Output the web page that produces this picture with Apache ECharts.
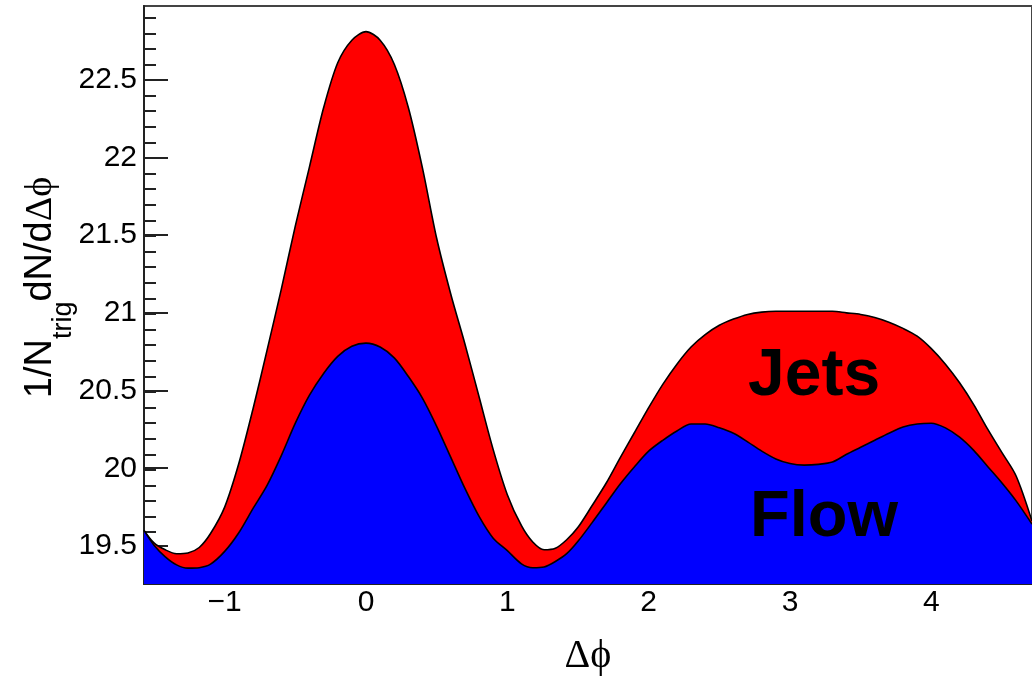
<!DOCTYPE html>
<html>
<head>
<meta charset="utf-8">
<script src="https://cdn.jsdelivr.net/npm/echarts@6/dist/echarts.min.js"></script>
<style>
  html, body { margin: 0; padding: 0; background: #fff; }
  #chart { width: 1032px; height: 681px; }
</style>
</head>
<body>
<div id="chart"></div>
<script>
// delta phi sample points (rad)
const dphi = [-1.5708, -1.5, -1.42, -1.34, -1.26, -1.18, -1.1, -1.0, -0.9, -0.8, -0.7, -0.6, -0.5, -0.4, -0.3, -0.2, -0.1, 0,
  0.1, 0.2, 0.3, 0.4, 0.5, 0.6, 0.7, 0.8, 0.9, 1.0, 1.1, 1.18, 1.26, 1.34, 1.42, 1.5, 1.6, 1.7, 1.8, 1.9,
  2.0, 2.1, 2.2, 2.3, 2.4, 2.5, 2.6, 2.7, 2.8, 2.9, 3.0, 3.1, 3.2, 3.3, 3.4, 3.5, 3.6, 3.7, 3.8, 3.9,
  4.0, 4.1, 4.2, 4.3, 4.4, 4.5, 4.6, 4.7124];

// flow + jets (red top curve)
const total = [19.60, 19.52, 19.475, 19.45, 19.455, 19.49, 19.58, 19.75, 20.03, 20.38, 20.76, 21.15, 21.56, 21.94, 22.32, 22.61, 22.755, 22.81,
  22.755, 22.6, 22.32, 21.93, 21.48, 21.12, 20.80, 20.46, 20.12, 19.83, 19.63, 19.525, 19.475, 19.485, 19.54, 19.62, 19.76, 19.905, 20.07, 20.23,
  20.39, 20.54, 20.67, 20.78, 20.86, 20.92, 20.96, 20.99, 21.005, 21.01, 21.01, 21.01, 21.01, 21.01, 21.0, 20.99, 20.97, 20.94, 20.90, 20.85,
  20.77, 20.67, 20.55, 20.41, 20.25, 20.10, 19.95, 19.66];

// flow only (blue curve)
const flow = [19.60, 19.505, 19.43, 19.378, 19.357, 19.36, 19.383, 19.465, 19.585, 19.74, 19.89, 20.08, 20.29, 20.47, 20.61, 20.72, 20.785, 20.805,
  20.78, 20.71, 20.59, 20.45, 20.27, 20.07, 19.87, 19.69, 19.55, 19.47, 19.385, 19.36, 19.365, 19.40, 19.45, 19.53, 19.65, 19.775, 19.90, 20.01,
  20.11, 20.18, 20.24, 20.285, 20.285, 20.26, 20.225, 20.17, 20.11, 20.06, 20.03, 20.02, 20.025, 20.04, 20.09, 20.135, 20.18, 20.225, 20.265, 20.285,
  20.29, 20.26, 20.20, 20.115, 20.01, 19.905, 19.79, 19.64];

const xTicks = [-1, 0, 1, 2, 3, 4];
const yTicks = [19.5, 20, 20.5, 21, 21.5, 22, 22.5];
const yMinorTicks = [];
for (let i = 193; i <= 229; i++) yMinorTicks.push(i / 10);

const yMin = 19.255, yMax = 22.975;
const sans = '"Liberation Sans", Arial, sans-serif';
const serif = '"Liberation Serif", "DejaVu Serif", serif';

const chart = echarts.init(document.getElementById('chart'), null, { renderer: 'canvas' });

const gridBox = { left: 144, top: 6, width: 890, height: 580 };

const option = {
  animation: false,
  backgroundColor: '#fff',
  grid: [
    Object.assign({ show: true, borderColor: '#444', borderWidth: 2, backgroundColor: 'transparent' }, gridBox),
    Object.assign({}, gridBox)
  ],
  xAxis: [
    {
      type: 'value', gridIndex: 0,
      min: -Math.PI / 2, max: 3 * Math.PI / 2,
      splitLine: { show: false },
      axisLine: { show: true, onZero: false, lineStyle: { color: '#222', width: 2 } },
      axisTick: { show: false },
      axisLabel: {
        customValues: xTicks,
        margin: 4,
        color: '#000',
        fontFamily: sans,
        fontSize: 30,
        formatter: v => (v < 0 ? '\u2212' + Math.abs(v) : String(v))
      },
      name: 'Δϕ',
      nameLocation: 'middle',
      nameGap: 52,
      nameMoveOverlap: false,
      nameTextStyle: { fontFamily: serif, fontSize: 40, color: '#000' }
    },
    {
      type: 'value', gridIndex: 1,
      min: -Math.PI / 2, max: 3 * Math.PI / 2,
      show: false
    }
  ],
  yAxis: [
    {
      type: 'value', gridIndex: 0,
      min: yMin, max: yMax,
      splitLine: { show: false },
      axisLine: { show: true, onZero: false, lineStyle: { color: '#222', width: 2 } },
      axisTick: { show: true, inside: true, length: 24, customValues: yTicks, lineStyle: { color: '#222', width: 2 } },
      axisLabel: {
        customValues: yTicks,
        margin: 7,
        color: '#000',
        fontFamily: sans,
        fontSize: 30
      },
      name: '{a|1/N}{s|trig}{a|dN/d}{g|Δϕ}',
      nameLocation: 'middle',
      nameRotate: 90,
      nameGap: 78,
      nameMoveOverlap: false,
      nameTextStyle: {
        padding: [0, 0, 0, 15],
        rich: {
          a: { fontFamily: sans, fontSize: 38, lineHeight: 44, verticalAlign: 'top', color: '#000' },
          g: { fontFamily: serif, fontSize: 38, lineHeight: 44, verticalAlign: 'top', color: '#000' },
          s: { fontFamily: sans, fontSize: 27, lineHeight: 27, padding: [28, 0, 0, 0], verticalAlign: 'top', color: '#000' }
        }
      }
    },
    {
      type: 'value', gridIndex: 1,
      min: yMin, max: yMax,
      splitLine: { show: false },
      axisLine: { show: false, onZero: false },
      axisTick: { show: true, inside: true, length: 12, customValues: yMinorTicks, lineStyle: { color: '#222', width: 2 } },
      axisLabel: { show: false }
    }
  ],
  series: [
    {
      name: 'Jets',
      type: 'line',
      xAxisIndex: 0, yAxisIndex: 0,
      data: dphi.map((x, i) => [x, total[i]]),
      smooth: 0.3,
      showSymbol: false,
      lineStyle: { color: '#000', width: 1.6 },
      areaStyle: { color: '#ff0000', opacity: 1, origin: 'start' },
      z: 2
    },
    {
      name: 'Flow',
      type: 'line',
      xAxisIndex: 0, yAxisIndex: 0,
      data: dphi.map((x, i) => [x, flow[i]]),
      smooth: 0.3,
      showSymbol: false,
      lineStyle: { color: '#000', width: 1.6 },
      areaStyle: { color: '#0000ff', opacity: 1, origin: 'start' },
      z: 3
    }
  ],
  graphic: [
    {
      type: 'text', x: 748, y: 377, z: 10,
      style: { text: 'Jets', font: 'bold 66px ' + sans, fill: '#000', verticalAlign: 'middle', align: 'left' }
    },
    {
      type: 'text', x: 750, y: 518, z: 10,
      style: { text: 'Flow', font: 'bold 65px ' + sans, fill: '#000', verticalAlign: 'middle', align: 'left' }
    }
  ]
};

chart.setOption(option);
</script>
</body>
</html>
